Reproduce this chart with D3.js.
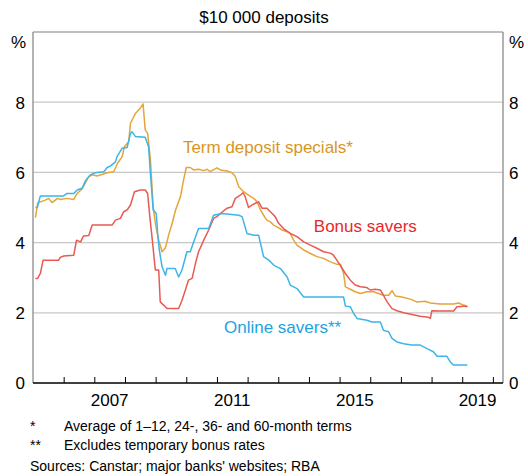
<!DOCTYPE html>
<html><head><meta charset="utf-8">
<script src="https://cdn.jsdelivr.net/npm/d3@7"></script>
<style>body{margin:0;background:#fff}text{font-family:Arial,"Liberation Sans",sans-serif}</style>
</head><body><svg id="c" width="528" height="476"></svg>
<script>
// ---- data (decimal year, per cent) ----
const termDeposit = [[2005.08,4.71],[2005.15,5.12],[2005.24,5.16],[2005.40,5.21],[2005.51,5.26],[2005.62,5.14],[2005.73,5.21],[2005.79,5.26],[2005.89,5.23],[2006.11,5.26],[2006.33,5.23],[2006.44,5.40],[2006.60,5.53],[2006.82,5.88],[2006.93,5.93],[2007.09,5.90],[2007.42,5.99],[2007.63,6.02],[2007.76,6.26],[2007.91,6.45],[2007.98,6.73],[2008.12,6.87],[2008.18,7.40],[2008.34,7.68],[2008.50,7.83],[2008.59,7.95],[2008.66,7.21],[2008.74,7.11],[2008.83,6.35],[2008.92,5.02],[2009.00,4.50],[2009.10,4.07],[2009.21,3.74],[2009.32,3.85],[2009.42,4.20],[2009.54,4.55],[2009.65,4.93],[2009.81,5.31],[2009.91,5.78],[2010.00,6.14],[2010.13,6.14],[2010.24,6.07],[2010.40,6.09],[2010.57,6.05],[2010.68,6.09],[2010.78,6.02],[2011.00,6.13],[2011.11,6.07],[2011.33,6.04],[2011.49,5.99],[2011.60,5.88],[2011.71,5.59],[2011.87,5.45],[2012.03,5.35],[2012.20,5.26],[2012.31,5.16],[2012.42,4.93],[2012.52,4.78],[2012.63,4.64],[2012.74,4.59],[2012.85,4.50],[2012.96,4.45],[2013.12,4.36],[2013.29,4.31],[2013.39,4.26],[2013.50,4.07],[2013.61,3.93],[2013.83,3.79],[2014.05,3.69],[2014.26,3.60],[2014.48,3.55],[2014.70,3.45],[2014.92,3.38],[2015.03,3.38],[2015.13,3.12],[2015.19,2.74],[2015.35,2.67],[2015.51,2.60],[2015.68,2.55],[2015.89,2.60],[2016.11,2.60],[2016.43,2.50],[2016.60,2.50],[2016.71,2.63],[2016.82,2.48],[2017.03,2.45],[2017.31,2.39],[2017.52,2.31],[2017.79,2.33],[2017.96,2.28],[2018.28,2.25],[2018.72,2.25],[2018.88,2.28],[2019.04,2.22],[2019.17,2.19]];
const bonusSavers = [[2005.08,2.98],[2005.15,2.98],[2005.24,3.12],[2005.33,3.50],[2005.84,3.50],[2005.89,3.58],[2006.00,3.62],[2006.33,3.64],[2006.42,4.07],[2006.55,4.02],[2006.65,4.19],[2006.82,4.20],[2006.93,4.50],[2007.58,4.50],[2007.69,4.64],[2007.85,4.69],[2007.96,4.88],[2008.07,4.93],[2008.18,5.07],[2008.31,5.45],[2008.50,5.50],[2008.66,5.50],[2008.74,5.40],[2008.81,4.74],[2008.88,4.17],[2008.99,3.22],[2009.10,3.22],[2009.15,2.31],[2009.26,2.22],[2009.37,2.12],[2009.75,2.12],[2009.86,2.36],[2009.97,2.65],[2010.07,2.93],[2010.19,2.98],[2010.30,3.41],[2010.40,3.74],[2010.57,4.07],[2010.73,4.36],[2010.89,4.69],[2011.00,4.74],[2011.11,4.83],[2011.33,4.98],[2011.49,5.02],[2011.60,5.26],[2011.76,5.35],[2011.85,5.42],[2011.92,5.31],[2012.03,5.00],[2012.14,5.07],[2012.25,5.12],[2012.36,5.16],[2012.47,4.98],[2012.63,4.98],[2012.80,4.83],[2012.90,4.74],[2013.01,4.55],[2013.17,4.40],[2013.39,4.26],[2013.61,4.17],[2013.83,4.02],[2014.05,3.93],[2014.26,3.84],[2014.48,3.74],[2014.70,3.70],[2014.80,3.64],[2014.91,3.50],[2015.19,3.12],[2015.35,2.93],[2015.51,2.79],[2015.68,2.74],[2015.89,2.72],[2016.00,2.65],[2016.16,2.67],[2016.33,2.65],[2016.43,2.50],[2016.55,2.31],[2016.71,2.12],[2016.87,2.06],[2017.09,2.00],[2017.36,1.95],[2017.63,1.90],[2017.90,1.87],[2017.96,1.84],[2018.01,2.06],[2018.28,2.05],[2018.72,2.05],[2018.83,2.17],[2019.04,2.19],[2019.17,2.17]];
const onlineSavers = [[2005.08,5.00],[2005.14,5.00],[2005.24,5.33],[2006.00,5.33],[2006.11,5.40],[2006.33,5.40],[2006.44,5.50],[2006.60,5.55],[2006.71,5.76],[2006.87,5.93],[2007.03,5.99],[2007.31,6.02],[2007.42,6.14],[2007.52,6.18],[2007.69,6.30],[2007.74,6.45],[2007.91,6.69],[2008.07,6.71],[2008.18,7.11],[2008.23,7.16],[2008.34,7.02],[2008.66,7.00],[2008.77,6.73],[2008.83,5.97],[2008.92,4.93],[2009.02,4.83],[2009.07,4.20],[2009.12,3.79],[2009.21,3.31],[2009.32,3.07],[2009.37,3.26],[2009.64,3.26],[2009.75,3.02],[2009.86,3.22],[2010.02,3.74],[2010.13,3.74],[2010.24,4.02],[2010.40,4.40],[2010.73,4.40],[2010.89,4.78],[2011.17,4.83],[2011.71,4.78],[2011.82,4.74],[2011.98,4.26],[2012.20,4.21],[2012.36,4.21],[2012.52,3.60],[2012.69,3.50],[2012.85,3.36],[2013.07,3.26],[2013.29,3.02],[2013.39,2.79],[2013.61,2.69],[2013.83,2.45],[2015.13,2.45],[2015.19,2.19],[2015.35,2.17],[2015.46,1.98],[2015.57,1.84],[2015.89,1.79],[2016.06,1.74],[2016.33,1.74],[2016.43,1.50],[2016.60,1.46],[2016.71,1.27],[2016.87,1.17],[2017.09,1.12],[2017.36,1.08],[2017.63,1.08],[2017.85,0.98],[2018.06,0.89],[2018.18,0.76],[2018.50,0.76],[2018.61,0.60],[2018.72,0.51],[2019.17,0.51]];
const yTicks = [0, 2, 4, 6, 8];
const xLabelYears = [2007, 2011, 2015, 2019];
const xTickYears = d3.range(2006, 2021);
const subtitle = "$10 000 deposits";
const seriesLabels = ["Term deposit specials*", "Bonus savers", "Online savers**"];
const footnotes = [["*", "Average of 1\u201312, 24-, 36- and 60-month terms"], ["**", "Excludes temporary bonus rates"]];
const sourceText = "Sources:  Canstar; major banks' websites; RBA";

// ---- layout ----
const L = 33, R = 503, T = 32, B = 383;
const FS = 17;
const svg = d3.select("#c");
const x = d3.scaleLinear().domain([2005, 2020.33]).range([L, R]);
const y = d3.scaleLinear().domain([0, 10]).range([B, T]);

// gridlines
svg.append("g").selectAll("line").data(yTicks.filter(d => d > 0)).join("line")
  .attr("x1", L).attr("x2", R).attr("y1", d => y(d)).attr("y2", d => y(d))
  .attr("stroke", "#c8c8c8").attr("stroke-width", 1.2);

// frame
svg.append("line").attr("x1", L).attr("x2", R).attr("y1", T).attr("y2", T).attr("stroke", "#808080").attr("stroke-width", 1.2);
svg.append("line").attr("x1", L).attr("x2", L).attr("y1", T).attr("y2", B).attr("stroke", "#808080").attr("stroke-width", 1.2);
svg.append("line").attr("x1", R).attr("x2", R).attr("y1", T).attr("y2", B).attr("stroke", "#808080").attr("stroke-width", 1.2);

// x axis with inward ticks
const xAxis = d3.axisTop(x).tickValues(xTickYears).tickSize(6).tickFormat("");
const gx = svg.append("g").attr("transform", `translate(0,${B})`).call(xAxis);
gx.select(".domain").remove();
gx.selectAll(".tick line").attr("stroke", "#000").attr("stroke-width", 1);
svg.append("line").attr("x1", L).attr("x2", R).attr("y1", B).attr("y2", B).attr("stroke", "#000").attr("stroke-width", 1.3);
svg.append("g").selectAll("text").data(xLabelYears).join("text")
  .attr("x", d => x(d + 0.5)).attr("y", 406).attr("text-anchor", "middle")
  .attr("font-size", FS).attr("fill", "#000").text(d => d);

// y axes
const yl = svg.append("g").attr("transform", `translate(${L},0)`).call(d3.axisLeft(y).tickValues(yTicks).tickSize(0).tickPadding(8));
const yr = svg.append("g").attr("transform", `translate(${R},0)`).call(d3.axisRight(y).tickValues(yTicks).tickSize(0).tickPadding(6));
[yl, yr].forEach(g => { g.select(".domain").remove(); g.selectAll("text").attr("font-size", FS).attr("fill", "#000").attr("font-family", "Arial, 'Liberation Sans', sans-serif").attr("dy", "0.35em"); });
svg.append("text").attr("x", 26).attr("y", 48).attr("text-anchor", "end").attr("font-size", FS).text("%");
svg.append("text").attr("x", 509).attr("y", 48).attr("font-size", FS).text("%");

// subtitle
svg.append("text").attr("x", 264).attr("y", 23).attr("text-anchor", "middle").attr("font-size", FS).text(subtitle);

// lines
const line = d3.line().x(d => x(d[0])).y(d => y(d[1]));
const series = [
  { data: termDeposit, color: "#E3A53C" },
  { data: bonusSavers, color: "#E85A52" },
  { data: onlineSavers, color: "#3DB5E8" }
];
svg.append("g").selectAll("path").data(series).join("path")
  .attr("d", d => line(d.data)).attr("fill", "none").attr("stroke", d => d.color).attr("stroke-width", 1.5)
  .attr("stroke-linejoin", "round");

// series labels
const labelPos = [
  { x: 2009.89, v: 6.55, color: "#D9961E" },
  { x: 2014.16, v: 4.30, color: "#E8282A" },
  { x: 2011.23, v: 1.42, color: "#1EA2DF" }
];
svg.append("g").selectAll("text").data(seriesLabels).join("text")
  .attr("x", (d, i) => x(labelPos[i].x)).attr("y", (d, i) => y(labelPos[i].v))
  .attr("font-size", FS).attr("fill", (d, i) => labelPos[i].color).text(d => d);

// footnotes
footnotes.forEach((f, i) => {
  svg.append("text").attr("x", 30).attr("y", 431 + i * 19).attr("font-size", 14).text(f[0]);
  svg.append("text").attr("x", 64).attr("y", 431 + i * 19).attr("font-size", 14).text(f[1]);
});
svg.append("text").attr("x", 30).attr("y", 471).attr("font-size", 14).text(sourceText);
</script></body></html>
